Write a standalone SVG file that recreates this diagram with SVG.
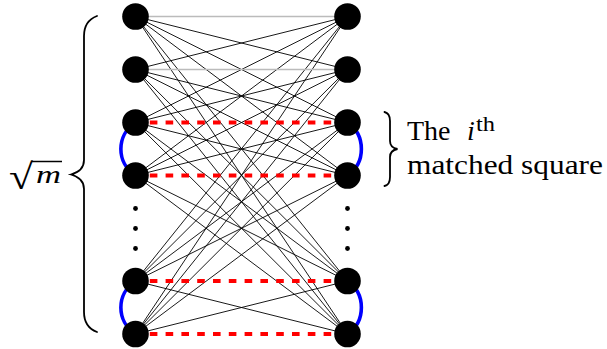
<svg xmlns="http://www.w3.org/2000/svg" width="607" height="349" viewBox="0 0 607 349">
<style>
.e{stroke:#000;stroke-width:0.9;fill:none}
.g{stroke:#bbbbbb;stroke-width:1.4;fill:none}
.m{stroke:#ff0000;stroke-width:3.8;stroke-dasharray:7.6 8.2;fill:none}
.b{stroke:#0000ff;stroke-width:3.6;fill:none}
.n{fill:#000}
.d{fill:#000}
.br{stroke:#000;stroke-width:1.8;fill:none;stroke-linecap:round}
</style>
<rect width="607" height="349" fill="#fff"/>
<g id="connectors">
<line class="e" x1="135.5" y1="16.5" x2="347.5" y2="69.5"/>
<line class="e" x1="135.5" y1="16.5" x2="347.5" y2="122.5"/>
<line class="e" x1="135.5" y1="16.5" x2="347.5" y2="175.5"/>
<line class="e" x1="135.5" y1="16.5" x2="347.5" y2="281"/>
<line class="e" x1="135.5" y1="16.5" x2="347.5" y2="334"/>
<line class="e" x1="135.5" y1="69.5" x2="347.5" y2="16.5"/>
<line class="e" x1="135.5" y1="69.5" x2="347.5" y2="122.5"/>
<line class="e" x1="135.5" y1="69.5" x2="347.5" y2="175.5"/>
<line class="e" x1="135.5" y1="69.5" x2="347.5" y2="281"/>
<line class="e" x1="135.5" y1="69.5" x2="347.5" y2="334"/>
<line class="e" x1="135.5" y1="122.5" x2="347.5" y2="16.5"/>
<line class="e" x1="135.5" y1="122.5" x2="347.5" y2="69.5"/>
<line class="e" x1="135.5" y1="122.5" x2="347.5" y2="175.5"/>
<line class="e" x1="135.5" y1="122.5" x2="347.5" y2="281"/>
<line class="e" x1="135.5" y1="122.5" x2="347.5" y2="334"/>
<line class="e" x1="135.5" y1="175.5" x2="347.5" y2="16.5"/>
<line class="e" x1="135.5" y1="175.5" x2="347.5" y2="69.5"/>
<line class="e" x1="135.5" y1="175.5" x2="347.5" y2="122.5"/>
<line class="e" x1="135.5" y1="175.5" x2="347.5" y2="281"/>
<line class="e" x1="135.5" y1="175.5" x2="347.5" y2="334"/>
<line class="e" x1="135.5" y1="281" x2="347.5" y2="16.5"/>
<line class="e" x1="135.5" y1="281" x2="347.5" y2="69.5"/>
<line class="e" x1="135.5" y1="281" x2="347.5" y2="122.5"/>
<line class="e" x1="135.5" y1="281" x2="347.5" y2="175.5"/>
<line class="e" x1="135.5" y1="281" x2="347.5" y2="334"/>
<line class="e" x1="135.5" y1="334" x2="347.5" y2="16.5"/>
<line class="e" x1="135.5" y1="334" x2="347.5" y2="69.5"/>
<line class="e" x1="135.5" y1="334" x2="347.5" y2="122.5"/>
<line class="e" x1="135.5" y1="334" x2="347.5" y2="175.5"/>
<line class="e" x1="135.5" y1="334" x2="347.5" y2="281"/>
<line class="g" x1="135.5" y1="16.5" x2="347.5" y2="16.5"/>
<line class="g" x1="135.5" y1="69.5" x2="347.5" y2="69.5"/>
<line class="m" x1="134" y1="122.5" x2="347.5" y2="122.5"/>
<line class="m" x1="134" y1="175.5" x2="347.5" y2="175.5"/>
<line class="m" x1="134" y1="281" x2="347.5" y2="281"/>
<line class="m" x1="134" y1="334" x2="347.5" y2="334"/>
<path class="b" d="M135.5,122.5 C116,135 116,163 135.5,175.5"/>
<path class="b" d="M135.5,281 C116,293.5 116,321.5 135.5,334"/>
<path class="b" d="M347.5,122.5 C366,135 366,163 347.5,175.5"/>
<path class="b" d="M347.5,281 C366,293.5 366,321.5 347.5,334"/>
</g>
<g id="left-nodes">
<circle id="L1" class="n" cx="135.5" cy="16.5" r="13.3"/>
<circle id="L2" class="n" cx="135.5" cy="69.5" r="13.3"/>
<circle id="L3" class="n" cx="135.5" cy="122.5" r="13.3"/>
<circle id="L4" class="n" cx="135.5" cy="175.5" r="13.3"/>
<circle id="L5" class="n" cx="135.5" cy="281" r="13.3"/>
<circle id="L6" class="n" cx="135.5" cy="334" r="13.3"/>
</g>
<g id="right-nodes">
<circle id="R1" class="n" cx="347.5" cy="16.5" r="13.3"/>
<circle id="R2" class="n" cx="347.5" cy="69.5" r="13.3"/>
<circle id="R3" class="n" cx="347.5" cy="122.5" r="13.3"/>
<circle id="R4" class="n" cx="347.5" cy="175.5" r="13.3"/>
<circle id="R5" class="n" cx="347.5" cy="281" r="13.3"/>
<circle id="R6" class="n" cx="347.5" cy="334" r="13.3"/>
</g>
<g id="dots">
<circle class="d" cx="135.5" cy="208.5" r="2.4"/>
<circle class="d" cx="135.5" cy="228.5" r="2.4"/>
<circle class="d" cx="135.5" cy="248.5" r="2.4"/>
<circle class="d" cx="347.5" cy="208.5" r="2.4"/>
<circle class="d" cx="347.5" cy="228.5" r="2.4"/>
<circle class="d" cx="347.5" cy="248.5" r="2.4"/>
</g>
<g id="left-brace">
<path class="br" d="M97,16 C89,19 84,25 84,36 L84,160 C84,167 80,172 71,174.5 C80,177 84,182 84,189 L84,312 C84,323 89,329 97,332"/>
<text x="9" y="189" font-family="Liberation Serif, serif" font-size="36" textLength="24" lengthAdjust="spacingAndGlyphs">√</text>
<line x1="32" y1="161.5" x2="62" y2="161.5" stroke="#000" stroke-width="1.5"/>
<text x="36" y="183" font-family="Liberation Serif, serif" font-size="26" font-style="italic" textLength="25" lengthAdjust="spacingAndGlyphs">m</text>
</g>
<g id="right-brace">
<path class="br" d="M384.5,112 C389,113 390,116 390,121 L390,141 C390,145 392,148 397.5,149 C392,150 390,153 390,157 L390,177 C390,182 389,185 384.5,186"/>
<text x="407" y="140" font-family="Liberation Serif, serif" font-size="28">The</text>
<text x="467" y="140" font-family="Liberation Serif, serif" font-size="28" font-style="italic">i</text>
<text x="476" y="130.5" font-family="Liberation Serif, serif" font-size="20" textLength="19" lengthAdjust="spacingAndGlyphs">th</text>
<text x="407" y="174" font-family="Liberation Serif, serif" font-size="28" textLength="196" lengthAdjust="spacingAndGlyphs">matched square</text>
</g>
</svg>
